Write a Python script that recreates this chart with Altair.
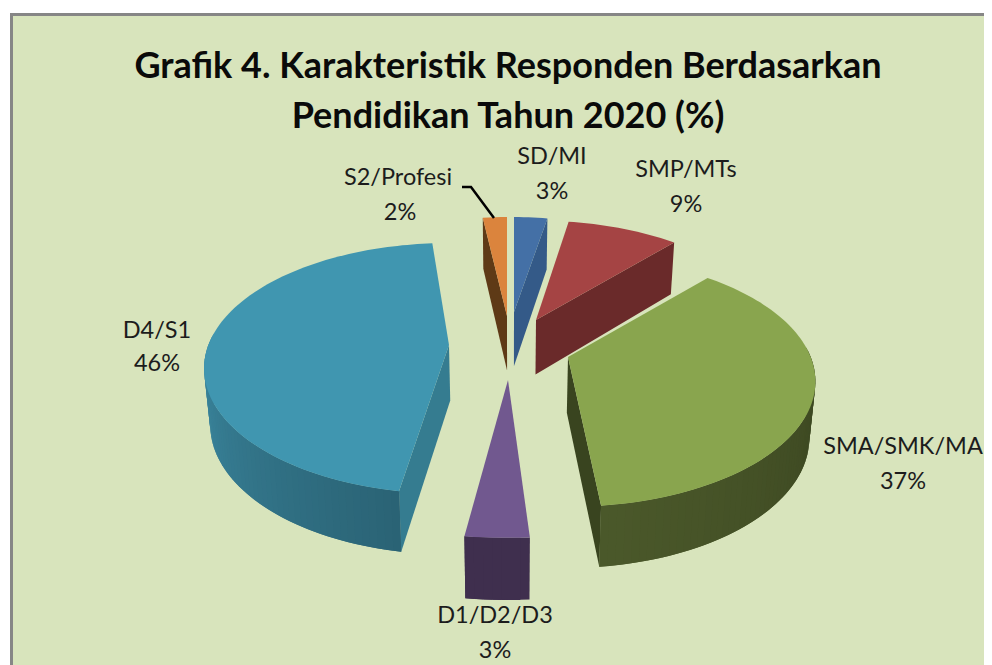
import math
import altair as alt
import pandas as pd

# ---- chart values ----
categories = ["SD/MI", "SMP/MTs", "SMA/SMK/MA", "D1/D2/D3", "D4/S1", "S2/Profesi"]
shares = [3, 9, 37, 3, 46, 2]
title_lines = ["Grafik 4. Karakteristik Responden Berdasarkan", "Pendidikan Tahun 2020 (%)"]

# ---- presentation ----
top_colors = ["#4470A6", "#A54444", "#89A54E", "#71588F", "#4096B0", "#DB843D"]
cut_colors = ["#345A88", "#6A2A2A", "#39441F", "#40304F", "#357C90", "#5E3A16"]
wall_far = ["#3D6799", "#7A3030", "#3A4520", "#463555", "#3D8BA3", "#6E4520"]
wall_near = ["#345A88", "#642626", "#4C5A2B", "#3F2F4E", "#285E6F", "#5E3A16"]
apex = [(514, 312), (536, 320), (568, 357), (508, 380), (449, 345), (507, 316)]
rim_shift_y = [0, -4.5, -6, 2, -7, -4]
stretch = [0.92, 0.99, 1.0, 1.1, 0.99, 1.0]
nudge_start = [0, -1, 0, 0, 2.0, 0]
nudge_end = [0, 0, -2.4, 0, 2.2, 0]
paint_order = [4, 5, 0, 1, 2, 3]
label_pos = [(552, 157), (686, 170), (903, 447), (495, 616), (157, 331), (398, 178)]
BG, FRAME = "#D8E4BC", "#868686"
W, H = 984, 665
A, B, K = 240.0, 118.0, 0.243


def rim(i, deg):
    t = math.radians(deg)
    u, v = math.sin(t), math.cos(t)
    w = 1 + K * v
    return apex[i][0] + stretch[i] * A * u / w, apex[i][1] + rim_shift_y[i] - B * v / w


def drop(p):
    x, y = p
    return 510 + (x - 510) * 0.98, y + 51 + 0.035 * (y - 219)


def hex_mix(a, b, f):
    ca = [int(a[j:j + 2], 16) for j in (1, 3, 5)]
    cb = [int(b[j:j + 2], 16) for j in (1, 3, 5)]
    return "#%02X%02X%02X" % tuple(round(x + (y - x) * f) for x, y in zip(ca, cb))


rows = []
counter = [0]


def poly(points, color):
    pid = counter[0]
    counter[0] += 1
    pts = list(points) + [points[0]]
    for n, (x, y) in enumerate(pts):
        rows.append({"pid": pid, "ord": n, "x": x, "y": y, "c": color})


poly([(10, 13), (W, 13), (W, H), (10, H)], FRAME)
poly([(13, 16), (W, 16), (W, H), (13, H)], BG)

edges = []
acc = 0.0
total = sum(shares)
for i, s in enumerate(shares):
    edges.append((acc / total * 360 + nudge_start[i], (acc + s) / total * 360 + nudge_end[i]))
    acc += s

for i in paint_order:
    a0, a1 = edges[i]
    steps = max(4, int((a1 - a0) / 1.5))
    angles = [a0 + (a1 - a0) * n / steps for n in range(steps + 1)]
    mid = rim(i, (a0 + a1) / 2)
    ap = apex[i]
    # cut faces that turn towards the viewer
    for edge_deg in (a0, a1):
        p = rim(i, edge_deg)
        dx, dy = p[0] - ap[0], p[1] - ap[1]
        if abs(dx) < 1e-6:
            continue
        line_y = ap[1] + dy * (mid[0] - ap[0]) / dx
        if mid[1] < line_y:
            poly([ap, p, drop(p), drop(ap)], cut_colors[i])
    # outer wall, shaded in overlapping strips
    front = [d for d in angles if math.cos(math.radians(d)) < 0.05]
    if i == 4:
        front = front[::-1]
    for n in range(len(front) - 1):
        end = front[min(n + 2, len(front) - 1)]
        p, q = rim(i, front[n]), rim(i, end)
        dist = min(abs(front[n] - 180) / 90, 1)
        poly([p, q, drop(q), drop(p)], hex_mix(wall_near[i], wall_far[i], dist))
    # top face
    poly([ap] + [rim(i, d) for d in angles], top_colors[i])

x_enc = alt.X("x:Q", scale=alt.Scale(domain=[8, W], range=[0, W - 8], nice=False, zero=False), axis=None)
y_enc = alt.Y("y:Q", scale=alt.Scale(domain=[H, 8], range=[H - 8, 0], nice=False, zero=False), axis=None)

shapes = alt.Chart(pd.DataFrame(rows)).mark_line(strokeWidth=0, interpolate="linear").encode(
    x=x_enc, y=y_enc, detail="pid:N", order="ord:Q",
    fill=alt.Fill("c:N", scale=None),
)

leader = alt.Chart(pd.DataFrame({"x": [462, 471, 494], "y": [187, 187, 218], "o": [0, 1, 2]})).mark_line(
    color="#000000", strokeWidth=2.5
).encode(x=x_enc, y=y_enc, order="o:Q")

lab = []
for c, s, (x, y) in zip(categories, shares, label_pos):
    lab.append({"x": x, "y": y, "t": c})
    lab.append({"x": x if c != "S2/Profesi" else x + 2, "y": y + (33 if c == "D4/S1" else 35), "t": f"{s}%"})
labels = alt.Chart(pd.DataFrame(lab)).mark_text(
    font="Lato", fontSize=23.5, color="#1C1C1C", align="center", baseline="middle"
).encode(x=x_enc, y=y_enc, text="t:N")

tit = pd.DataFrame({"x": [508, 508], "y": [67, 117], "t": title_lines})
title = alt.Chart(tit).mark_text(
    font="Lato", fontSize=36, fontWeight="bold", color="#0A0A0A", align="center", baseline="middle"
).encode(x=x_enc, y=y_enc, text="t:N")

chart = alt.layer(shapes, leader, labels, title).properties(
    width=W - 8, height=H - 8, padding=0, autosize=alt.AutoSizeParams(type="none"),
    background="#FFFFFF",
).configure_view(stroke=None)

chart.save("out.html", embed_options={"renderer": "svg", "actions": False})
